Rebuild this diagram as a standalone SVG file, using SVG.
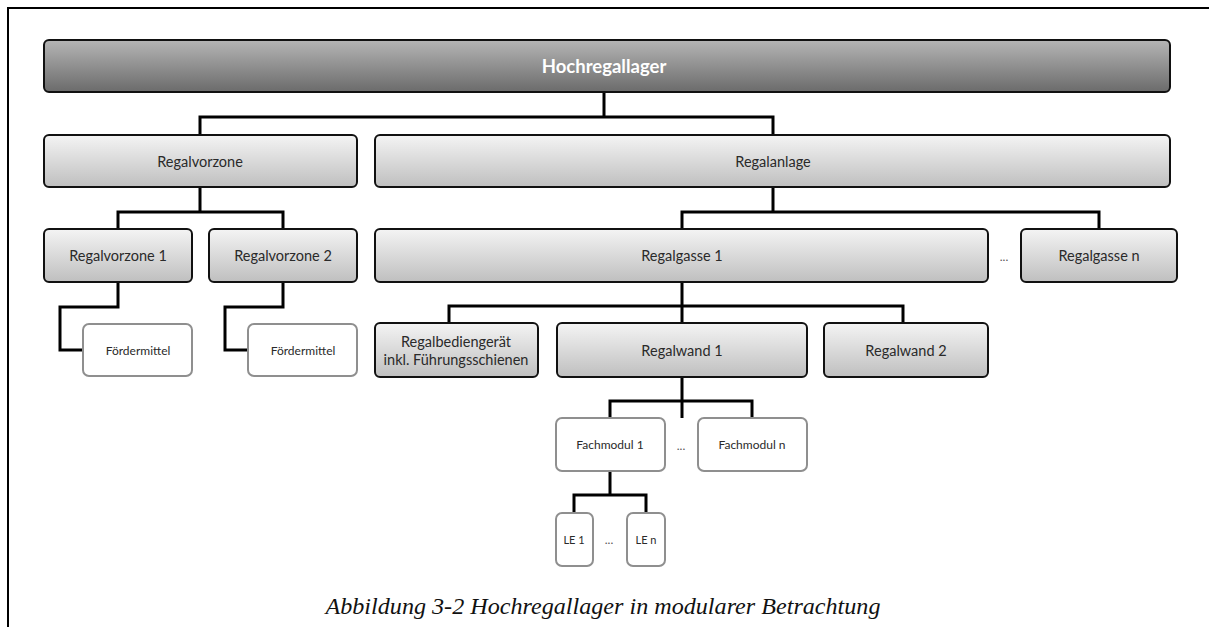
<svg xmlns="http://www.w3.org/2000/svg" width="1209" height="627" viewBox="0 0 1209 627">
<defs>
<linearGradient id="gTop" x1="0" y1="0" x2="0" y2="1">
<stop offset="0" stop-color="#b5b5b5"/><stop offset="1" stop-color="#6b6b6b"/>
</linearGradient>
<linearGradient id="gBox" x1="0" y1="0" x2="0" y2="1">
<stop offset="0" stop-color="#f4f4f4"/><stop offset="1" stop-color="#bfbfbf"/>
</linearGradient>
<style>
.top{fill:url(#gTop);stroke:#111;stroke-width:2}
.box{fill:url(#gBox);stroke:#111;stroke-width:2}
.wbox{fill:#fff;stroke:#8f8f8f;stroke-width:2}
.conn{fill:none;stroke:#000;stroke-width:3;stroke-linejoin:miter}
text{font-family:Lato,"Liberation Sans",sans-serif;fill:#2a2a2a;text-anchor:middle;dominant-baseline:central}
.t1{font-size:18.5px;font-weight:bold;fill:#fff}
.t2{font-size:14.5px}
.t3{font-size:12px}
.t4{font-size:11px}
.dots{font-size:12px;fill:#555}
.cap{font-family:"Liberation Serif",serif;font-style:italic;font-size:24px;fill:#111;dominant-baseline:auto}
</style>
</defs>
<rect width="1209" height="627" fill="#fff"/>
<path d="M8,627 V8 H1209" fill="none" stroke="#000" stroke-width="2"/>

<g id="connectors">
<path class="conn" d="M604,92 V117 M200,135 V117 H773 V135"/>
<path class="conn" d="M200,188 V212 M118,229 V212 H283 V229"/>
<path class="conn" d="M118,282 V307 H60 V350 H83"/>
<path class="conn" d="M283,282 V307 H225 V350 H248"/>
<path class="conn" d="M773,188 V212 M682,229 V212 H1099 V229"/>
<path class="conn" d="M682,282 V323 M449,323 V306 H903 V323"/>
<path class="conn" d="M682,377 V418 M610,418 V401 H752 V418"/>
<path class="conn" d="M610,471 V495 M574,513 V495 H646 V513"/>
</g>

<g id="hochregallager"><rect class="top" x="44" y="40" width="1126" height="52" rx="5"/><text class="t1" x="604" y="66">Hochregallager</text></g>
<g id="regalvorzone"><rect class="box" x="44" y="135" width="313" height="52" rx="5"/><text class="t2" x="200" y="161">Regalvorzone</text></g>
<g id="regalanlage"><rect class="box" x="375" y="135" width="795" height="52" rx="5"/><text class="t2" x="773" y="161">Regalanlage</text></g>
<g id="regalvorzone1"><rect class="box" x="44" y="229" width="148" height="53" rx="5"/><text class="t2" x="118" y="255">Regalvorzone 1</text></g>
<g id="regalvorzone2"><rect class="box" x="209" y="229" width="148" height="53" rx="5"/><text class="t2" x="283" y="255">Regalvorzone 2</text></g>
<g id="foerdermittel1"><rect class="wbox" x="83" y="324" width="109" height="52" rx="6"/><text class="t3" x="138" y="350">Fördermittel</text></g>
<g id="foerdermittel2"><rect class="wbox" x="248" y="324" width="109" height="52" rx="6"/><text class="t3" x="303" y="350">Fördermittel</text></g>
<g id="regalgasse1"><rect class="box" x="375" y="229" width="613" height="53" rx="5"/><text class="t2" x="682" y="255">Regalgasse 1</text></g>
<g id="dots1"><text class="dots" x="1004" y="256">...</text></g>
<g id="regalgassen"><rect class="box" x="1021" y="229" width="156" height="53" rx="5"/><text class="t2" x="1099" y="255">Regalgasse n</text></g>
<g id="rbg"><rect class="box" x="375" y="323" width="163" height="54" rx="5"/><text class="t2" x="456" y="341">Regalbediengerät</text><text class="t2" x="456" y="359">inkl. Führungsschienen</text></g>
<g id="regalwand1"><rect class="box" x="557" y="323" width="250" height="54" rx="5"/><text class="t2" x="682" y="350">Regalwand 1</text></g>
<g id="regalwand2"><rect class="box" x="824" y="323" width="164" height="54" rx="5"/><text class="t2" x="906" y="350">Regalwand 2</text></g>
<g id="fachmodul1"><rect class="wbox" x="556" y="418" width="109" height="53" rx="6"/><text class="t3" x="610" y="444">Fachmodul 1</text></g>
<g id="dots2"><text class="dots" x="681" y="445">...</text></g>
<g id="fachmoduln"><rect class="wbox" x="698" y="418" width="109" height="53" rx="6"/><text class="t3" x="752" y="444">Fachmodul n</text></g>
<g id="le1"><rect class="wbox" x="556" y="513" width="37" height="53" rx="6"/><text class="t4" x="574" y="539">LE 1</text></g>
<g id="dots3"><text class="dots" x="609" y="539">...</text></g>
<g id="len"><rect class="wbox" x="627" y="513" width="38" height="53" rx="6"/><text class="t4" x="646" y="539">LE n</text></g>

<text class="cap" x="603" y="614" textLength="555" lengthAdjust="spacingAndGlyphs">Abbildung 3-2 Hochregallager in modularer Betrachtung</text>
</svg>
